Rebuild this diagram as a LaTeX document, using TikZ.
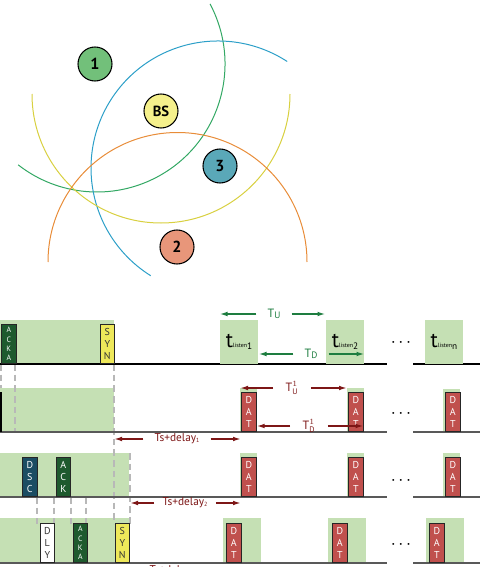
\documentclass[tikz,border=0pt]{standalone}
\usepackage{fontspec}
\setmainfont{PT Sans}
\usetikzlibrary{arrows.meta}

\definecolor{lgreen}{HTML}{C5E0B4}
\definecolor{dgreen}{HTML}{1E5A2E}
\definecolor{dblue}{HTML}{1B4D63}
\definecolor{datred}{HTML}{C0504D}
\definecolor{synyel}{HTML}{EEE85A}
\definecolor{agreen}{HTML}{1E7D40}
\definecolor{dred}{HTML}{7D1616}
\definecolor{cone}{HTML}{72C07A}
\definecolor{cbs}{HTML}{F5F08C}
\definecolor{cthree}{HTML}{5AA8B8}
\definecolor{ctwo}{HTML}{E8967A}
\definecolor{rgreen}{HTML}{33A864}
\definecolor{rblue}{HTML}{2C9FC8}
\definecolor{ryel}{HTML}{D8D040}
\definecolor{rorange}{HTML}{E88C38}

\newcommand{\tlisten}[1]{{\fontsize{16}{16}\selectfont t}{\fontsize{4.5}{5}\selectfont listen}\raisebox{-2pt}{\fontsize{7}{7}\selectfont #1}}
\newcommand{\tsd}[1]{Ts+delay\raisebox{-0.5pt}{\fontsize{4.5}{5}\selectfont #1}}

\tikzset{every picture/.style={line width=0.75pt}}

\begin{document}
\begin{tikzpicture}[x=0.75pt,y=0.75pt,yscale=-1,xscale=1,
    stn/.style={circle,draw=black,line width=0.8pt,minimum size=25.5pt,inner sep=0pt,font=\bfseries\fontsize{12}{12}\selectfont},
    pkt/.style={draw=black!85,line width=0.8pt,minimum width=10.9pt,minimum height=29.25pt,inner sep=0pt,anchor=south west,align=center,text=white,font=\fontsize{7.5}{9}\selectfont},
    small pkt/.style={pkt,font=\fontsize{5.8}{7}\selectfont},
    listen/.style={fill=lgreen,minimum width=28.5pt,minimum height=33pt,inner sep=0pt},
    base/.style={line width=0.9pt,black!65},
    guide/.style={black!28,line width=0.8pt,dash pattern=on 5pt off 3pt},
    gar/.style={agreen,line width=1.1pt,-{Latex[length=6pt,width=3.5pt]}},
    rar/.style={dred,line width=1.1pt,-{Latex[length=6pt,width=3.5pt]}},
    lbl/.style={inner ysep=1pt,inner xsep=8pt,font=\fontsize{9}{9}\selectfont}]
\useasboundingbox (0,0) rectangle (480,567);

% range arcs
\draw[rgreen] ([shift={(97,64)}]-28:128) arc[start angle=-28,end angle=128,radius=128];
\draw[rblue] ([shift={(218,168)}]-57:127) arc[start angle=-57,end angle=-238,radius=127];
\draw[ryel] ([shift={(161,94)}]180:129) arc[start angle=180,end angle=0,radius=129];
\draw[rorange] ([shift={(177.5,262)}]180:129.5) arc[start angle=180,end angle=360,radius=129.5];

% stations
\node[stn,fill=cone] (n1) at (95,64) {1};
\node[stn,fill=cbs,font=\bfseries\fontsize{11}{11}\selectfont] (bs) at (161,111) {BS};
\node[stn,fill=cthree] (n3) at (220,166) {3};
\node[stn,fill=ctwo] (n2) at (177,247) {2};

% green backgrounds
\fill[lgreen] (0,320) rectangle (114,364);
\fill[lgreen] (0,388) rectangle (114,432);
\fill[lgreen] (240,388) rectangle (257,432);
\fill[lgreen] (347,388) rectangle (364,432);
\fill[lgreen] (443,389) rectangle (460,432);
\fill[lgreen] (0,453) rectangle (129,497);
\fill[lgreen] (240,453) rectangle (257,497);
\fill[lgreen] (347,453) rectangle (364,497);
\fill[lgreen] (443,453) rectangle (460,497);
\fill[lgreen] (0,518) rectangle (129,563);
\fill[lgreen] (223,518) rectangle (261,563);
\fill[lgreen] (328,518) rectangle (366,563);
\fill[lgreen] (426,518) rectangle (464,563);

% guide lines
\draw[guide] (1,364) -- (1,388);
\draw[guide] (15,364) -- (15,432);
\draw[guide] (114,364) -- (114,524);
\draw[guide] (130,453) -- (130,524);
\foreach \gx in {37,54,71,86}
  \draw[guide] (\gx,497) -- (\gx,524);

% time lines
\draw[line width=0.9pt] (0,364) -- (387,364) (413,364) -- (480,364);
\draw[base] (0,432) -- (387,432) (413,432) -- (480,432);
\draw[base] (0,497) -- (387,497) (413,497) -- (480,497);
\draw[base] (0,563) -- (387,563) (413,563) -- (480,563);
\draw[line width=1pt] (1,392) -- (1,432);

% listen windows
\node[listen] (l1) at (239,342) {\tlisten{1}};
\node[listen] (l2) at (345,342) {\tlisten{2}};
\node[listen] (ln) at (444,342) {\tlisten{n}};

% packets
\node[small pkt,fill=dgreen] (p1a) at (1,364) {A\\C\\K\\A};
\node[pkt,fill=synyel,text=black!80] (p1s) at (99.5,364) {S\\Y\\N};
\node[pkt,fill=datred] (d21) at (241,432) {D\\A\\T};
\node[pkt,fill=datred] (d22) at (348,432) {D\\A\\T};
\node[pkt,fill=datred] (d2n) at (445,432) {D\\A\\T};
\node[pkt,fill=dblue] (p3d) at (22,497) {D\\S\\C};
\node[pkt,fill=dgreen] (p3a) at (55.5,497) {A\\C\\K};
\node[pkt,fill=datred] (d31) at (241,497) {D\\A\\T};
\node[pkt,fill=datred] (d32) at (348,497) {D\\A\\T};
\node[pkt,fill=datred] (d3n) at (445,497) {D\\A\\T};
\node[pkt,fill=white,text=black!80] (p4d) at (39.5,563) {D\\L\\Y};
\node[small pkt,fill=dgreen] (p4a) at (72.5,563) {A\\C\\K\\A};
\node[pkt,fill=synyel,text=black!80] (p4s) at (114.5,563) {S\\Y\\N};
\node[pkt,fill=datred] (d41) at (226,563) {D\\A\\T};
\node[pkt,fill=datred] (d42) at (332,563) {D\\A\\T};
\node[pkt,fill=datred] (d4n) at (429,563) {D\\A\\T};

% dots
\foreach \dy/\dn in {343/1,414/2,481/3,545/4}
  \node[font=\fontsize{5}{5}\selectfont] (dots\dn) at (401,\dy) {\textbullet\hspace{3.5pt}\textbullet\hspace{3.5pt}\textbullet};

% periods
\node[lbl,text=agreen] (tu) at (274,314) {T\raisebox{-0.5pt}{\fontsize{7}{7}\selectfont U}};
\draw[gar] (tu) -- (tu -| l1.west);
\draw[gar] (tu) -- (tu -| l2.west);
\node[lbl,text=agreen] (td) at (311,354) {T\raisebox{-0.5pt}{\fontsize{7}{7}\selectfont D}};
\draw[gar] (td) -- (td -| l1.east);
\draw[gar] (td) -- (td -| l2.east);

\node[lbl,text=dred,inner xsep=9pt] (tu1) at (292,388) {$\mathrm{T}^{1}_{\mathrm{U}}$};
\coordinate (tu1l) at (240,388);
\coordinate (tu1r) at (347,388);
\draw[rar] (tu1) -- (tu1l);
\draw[rar] (tu1) -- (tu1r);
\node[lbl,text=dred,inner xsep=9pt] (td1) at (309,426) {$\mathrm{T}^{1}_{\mathrm{D}}$};
\draw[rar] (td1) -- (td1 -| d21.east);
\draw[rar] (td1) -- (td1 -| d22.east);

% delays
\node[lbl,text=dred,inner xsep=8pt,font=\fontsize{8.5}{9}\selectfont] (sd1) at (177,439) {\tsd{1}};
\coordinate (sd1l) at (114,439);
\draw[rar] (sd1) -- (sd1l);
\draw[rar] (sd1) -- (sd1 -| d21.west);
\node[lbl,text=dred,inner xsep=6pt,font=\fontsize{8.5}{9}\selectfont] (sd2) at (185,503) {\tsd{2}};
\coordinate (sd2l) at (130,503);
\draw[rar] (sd2) -- (sd2l);
\draw[rar] (sd2) -- (sd2 -| d31.west);
\node[lbl,text=dred,inner xsep=8pt,font=\fontsize{8.5}{9}\selectfont] (sd3) at (172,571) {\tsd{3}};
\coordinate (sd3l) at (114,571);
\draw[rar] (sd3) -- (sd3l);
\draw[rar] (sd3) -- (sd3 -| d41.west);
\end{tikzpicture}
\end{document}
